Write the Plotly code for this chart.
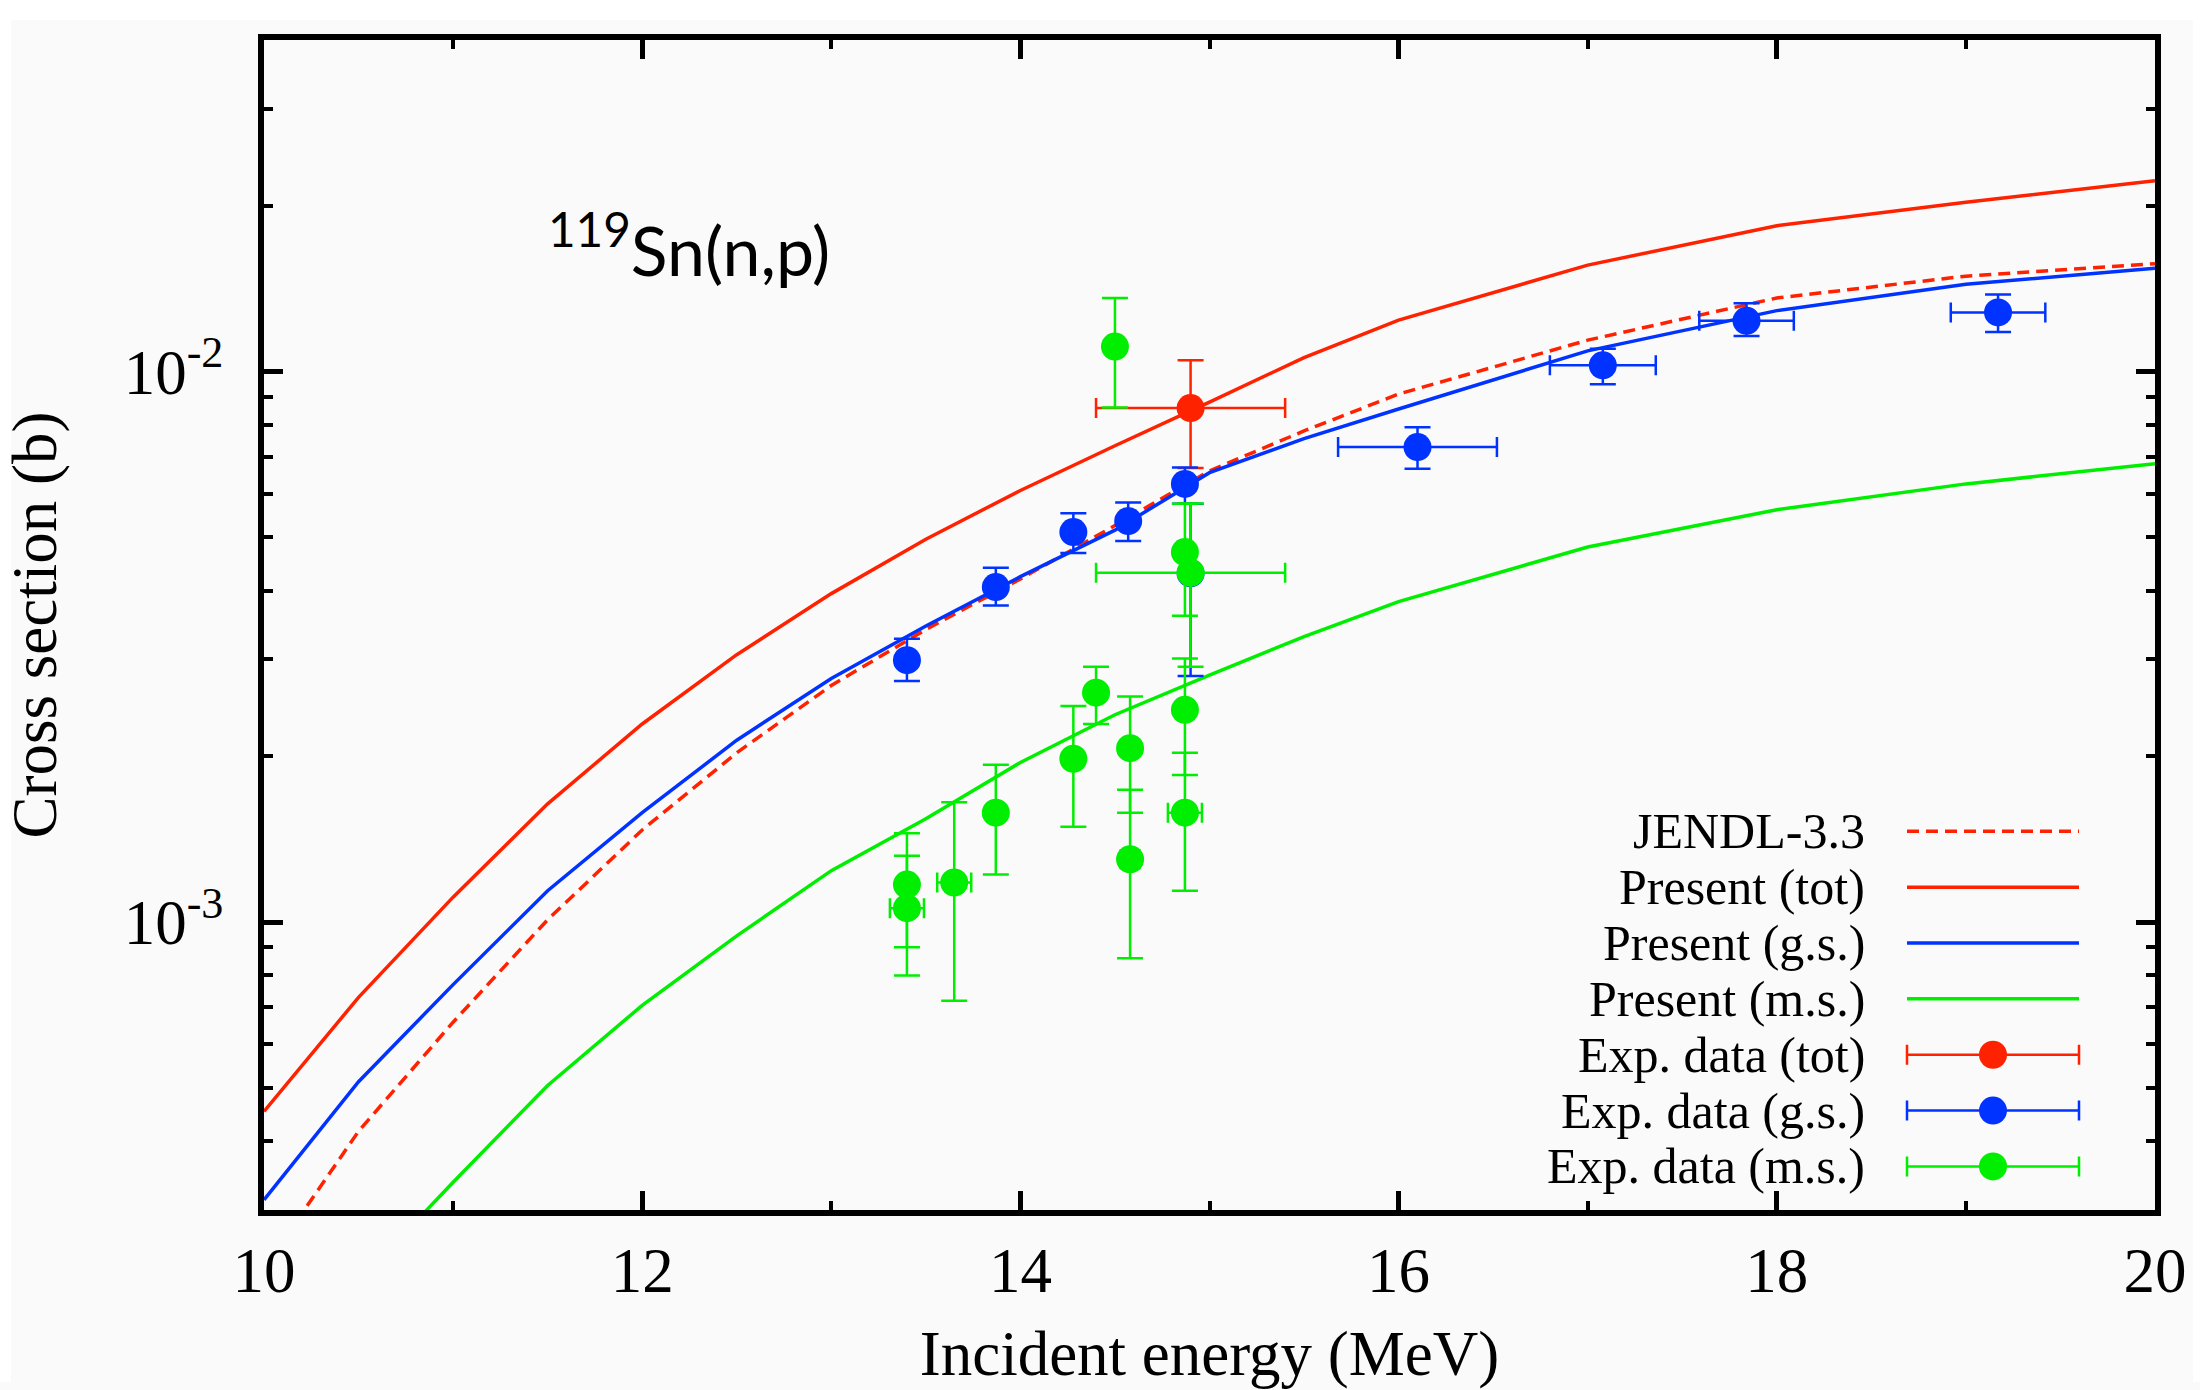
import numpy as np
import plotly.graph_objects as go

# ---------------- data ----------------
E_curve = [10, 10.5, 11, 11.5, 12, 12.5, 13, 13.5, 14, 14.5, 15, 15.5, 16, 17, 18, 19, 20]
jendl = [2.35e-4, 4.17e-4, 6.58e-4, 1.01e-3, 1.47e-3, 2.03e-3, 2.69e-3, 3.40e-3, 4.20e-3,
         5.25e-3, 6.60e-3, 7.80e-3, 9.10e-3, 1.14e-2, 1.36e-2, 1.49e-2, 1.57e-2]
present_tot = [4.53e-4, 7.30e-4, 1.11e-3, 1.64e-3, 2.29e-3, 3.06e-3, 3.95e-3, 4.96e-3, 6.08e-3,
               7.33e-3, 8.80e-3, 1.06e-2, 1.24e-2, 1.56e-2, 1.84e-2, 2.03e-2, 2.22e-2]
present_gs = [3.13e-4, 5.13e-4, 7.70e-4, 1.14e-3, 1.58e-3, 2.14e-3, 2.77e-3, 3.45e-3, 4.24e-3,
              5.15e-3, 6.55e-3, 7.55e-3, 8.55e-3, 1.09e-2, 1.29e-2, 1.44e-2, 1.54e-2]
present_ms = [1.40e-4, 2.22e-4, 3.37e-4, 5.05e-4, 7.06e-4, 9.44e-4, 1.24e-3, 1.54e-3, 1.95e-3,
              2.38e-3, 2.81e-3, 3.30e-3, 3.82e-3, 4.80e-3, 5.61e-3, 6.25e-3, 6.80e-3]

exp_tot_E = [14.90]
exp_tot_y = [8.58e-3]
exp_tot_ex = [0.50]
exp_tot_eyp = [1.9e-3]
exp_tot_eym = [1.9e-3]

exp_gs_E = [13.40, 13.87, 14.28, 14.57, 14.87, 14.90, 16.10, 17.08, 17.84, 19.17]
exp_gs_y = [2.99e-3, 4.06e-3, 5.11e-3, 5.35e-3, 6.25e-3, 4.30e-3, 7.29e-3, 1.026e-2, 1.236e-2, 1.28e-2]
exp_gs_ex = [0, 0, 0, 0, 0, 0, 0.42, 0.28, 0.25, 0.25]
exp_gs_eyp = [0.28e-3, 0.34e-3, 0.42e-3, 0.43e-3, 0.44e-3, 1.45e-3, 0.63e-3, 0.74e-3, 0.94e-3, 1.0e-3]
exp_gs_eym = [0.25e-3, 0.30e-3, 0.43e-3, 0.43e-3, 0.50e-3, 1.50e-3, 0.63e-3, 0.78e-3, 0.76e-3, 1.0e-3]

exp_ms_E = [14.50, 14.87, 14.90, 14.40, 14.87, 14.28, 14.58, 14.87, 14.58, 13.87, 13.65, 13.40, 13.40]
exp_ms_y = [1.11e-2, 4.70e-3, 4.31e-3, 2.61e-3, 2.43e-3, 1.98e-3, 2.07e-3, 1.58e-3, 1.30e-3,
            1.58e-3, 1.18e-3, 1.17e-3, 1.06e-3]
exp_ms_ex = [0, 0, 0.50, 0, 0, 0, 0, 0.09, 0.05, 0, 0.09, 0, 0.09]
exp_ms_eyp = [2.5e-3, 1.05e-3, 1.45e-3, 0.30e-3, 0.58e-3, 0.49e-3, 0.50e-3, 0.45e-3, 0.44e-3,
              0.35e-3, 0.47e-3, 0.28e-3, 0.26e-3]
exp_ms_eym = [2.5e-3, 1.10e-3, 1.40e-3, 0.32e-3, 0.58e-3, 0.49e-3, 0.49e-3, 0.44e-3, 0.44e-3,
              0.36e-3, 0.46e-3, 0.27e-3, 0.26e-3]

legend_labels = ["JENDL-3.3", "Present (tot)", "Present (g.s.)", "Present (m.s.)",
                 "Exp. data (tot)", "Exp. data (g.s.)", "Exp. data (m.s.)"]

# ---------------- style ----------------
RED = "#ff2200"
BLUE = "#0033ff"
GREEN = "#00ee00"
BG = "#fafafa"
SERIF = "Liberation Serif, Times New Roman, serif"
W, H = 2200, 1390
L, R, T, B = 264, 45, 40, 173
PW, PH = W - L - R, H - T - B


def px(x):
    return (x - L) / PW


def py(y):
    return 1 - (y - T) / PH


fig = go.Figure()

curve_specs = [
    (jendl, RED, "12px,7px"),
    (present_tot, RED, "solid"),
    (present_gs, BLUE, "solid"),
    (present_ms, GREEN, "solid"),
]
for vals, col, dash in curve_specs:
    fig.add_trace(go.Scatter(x=E_curve, y=vals, mode="lines",
                             line=dict(color=col, width=3.5, dash=dash),
                             showlegend=False, hoverinfo="skip"))


def exp_trace(E, y, ex, eyp, eym, col):
    return go.Scatter(
        x=E, y=y, mode="markers",
        marker=dict(color=col, size=28, line=dict(width=0)),
        error_x=dict(type="data", array=ex, symmetric=True, color=col, thickness=2.5, width=10),
        error_y=dict(type="data", array=eyp, arrayminus=eym, symmetric=False, color=col,
                     thickness=2.5, width=13),
        showlegend=False, hoverinfo="skip")


fig.add_trace(exp_trace(exp_tot_E, exp_tot_y, exp_tot_ex, exp_tot_eyp, exp_tot_eym, RED))
fig.add_trace(exp_trace(exp_gs_E, exp_gs_y, exp_gs_ex, exp_gs_eyp, exp_gs_eym, BLUE))
fig.add_trace(exp_trace(exp_ms_E, exp_ms_y, exp_ms_ex, exp_ms_eyp, exp_ms_eym, GREEN))

# ---------------- manual gnuplot-style legend (text left, sample right) ----------------
LEG_TEXT_RIGHT = 1866
LEG_X0, LEG_X1 = 1907, 2079
LEG_Y0, LEG_DY = 836, 56.2
leg_styles = [
    ("line", RED, "12px,7px"),
    ("line", RED, "solid"),
    ("line", BLUE, "solid"),
    ("line", GREEN, "solid"),
    ("point", RED, None),
    ("point", BLUE, None),
    ("point", GREEN, None),
]
annotations = []
for i, (lab, (kind, col, dash)) in enumerate(zip(legend_labels, leg_styles)):
    yy = py(LEG_Y0 + i * LEG_DY)
    annotations.append(dict(text=lab, xref="paper", yref="paper", x=px(LEG_TEXT_RIGHT), y=yy,
                            xanchor="right", yanchor="middle", showarrow=False, borderpad=0,
                            font=dict(family=SERIF, size=50, color="black")))
    xa, xb = px(LEG_X0), px(LEG_X1)
    if kind == "line":
        fig.add_trace(go.Scatter(x=[xa, xb], y=[yy, yy], mode="lines", xaxis="x2", yaxis="y2",
                                 line=dict(color=col, width=3.5, dash=dash),
                                 showlegend=False, hoverinfo="skip"))
    else:
        xm = (xa + xb) / 2
        fig.add_trace(go.Scatter(x=[xm], y=[yy], mode="markers", xaxis="x2", yaxis="y2",
                                 marker=dict(color=col, size=28),
                                 error_x=dict(type="constant", value=(xb - xa) / 2, color=col,
                                              thickness=2.5, width=10),
                                 showlegend=False, hoverinfo="skip"))

annotations.append(dict(text="<sup>119</sup>Sn(n,p)", xref="paper", yref="paper",
                        x=px(546), y=py(246), xanchor="left", yanchor="middle", showarrow=False,
                        font=dict(family="Lato, Open Sans, sans-serif", size=68, color="black")))

y_minor = [k * 10.0 ** e for e in (-4, -3, -2) for k in range(2, 10)]
y_minor = [v for v in y_minor if 3e-4 <= v <= 4e-2]

AXFONT = 63

fig.update_layout(
    width=W, height=H,
    margin=dict(l=L, r=R, t=T, b=B),
    paper_bgcolor=BG, plot_bgcolor=BG,
    font=dict(family=SERIF, size=AXFONT, color="black"),
    annotations=annotations,
    xaxis=dict(range=[10, 20], tickmode="array", tickvals=[10, 12, 14, 16, 18, 20],
               ticktext=["10", "12", "14", "16", "18", "20"],
               ticks="inside", ticklen=19, tickwidth=5, tickcolor="black",
               minor=dict(tickmode="array", tickvals=[11, 13, 15, 17, 19], ticks="inside",
                          ticklen=9, tickwidth=4, tickcolor="black", showgrid=False),
               showline=True, linewidth=6, linecolor="black", mirror="allticks",
               showgrid=False, zeroline=False,
               tickfont=dict(family=SERIF, size=AXFONT),
               title=dict(text="Incident energy (MeV)", font=dict(family=SERIF, size=AXFONT),
                          standoff=28)),
    yaxis=dict(type="log", range=[np.log10(3e-4), np.log10(4e-2)], tickmode="array",
               tickvals=[1e-3, 1e-2], ticktext=["10<sup>-3</sup>", "10<sup>-2</sup>"],
               ticks="inside", ticklen=19, tickwidth=5, tickcolor="black",
               minor=dict(tickmode="array", tickvals=y_minor, ticks="inside",
                          ticklen=9, tickwidth=4, tickcolor="black", showgrid=False),
               showline=True, linewidth=6, linecolor="black", mirror="allticks",
               showgrid=False, zeroline=False, ticklabelstandoff=22,
               tickfont=dict(family=SERIF, size=AXFONT),
               title=dict(text="Cross section (b)", font=dict(family=SERIF, size=AXFONT),
                          standoff=54)),
    xaxis2=dict(overlaying="x", range=[0, 1], visible=False, anchor="y2"),
    yaxis2=dict(overlaying="y", range=[0, 1], visible=False, anchor="x2"),
    shapes=[
        dict(type="rect", xref="paper", yref="paper", x0=px(0), x1=px(W), y0=py(20), y1=py(0),
             fillcolor="white", line=dict(width=0), layer="below"),
        dict(type="rect", xref="paper", yref="paper", x0=px(0), x1=px(11), y0=py(H), y1=py(0),
             fillcolor="white", line=dict(width=0), layer="below"),
        dict(type="rect", xref="paper", yref="paper", x0=px(2193), x1=px(W), y0=py(H), y1=py(0),
             fillcolor="white", line=dict(width=0), layer="below"),
    ],
)

fig.write_html("out.html")
